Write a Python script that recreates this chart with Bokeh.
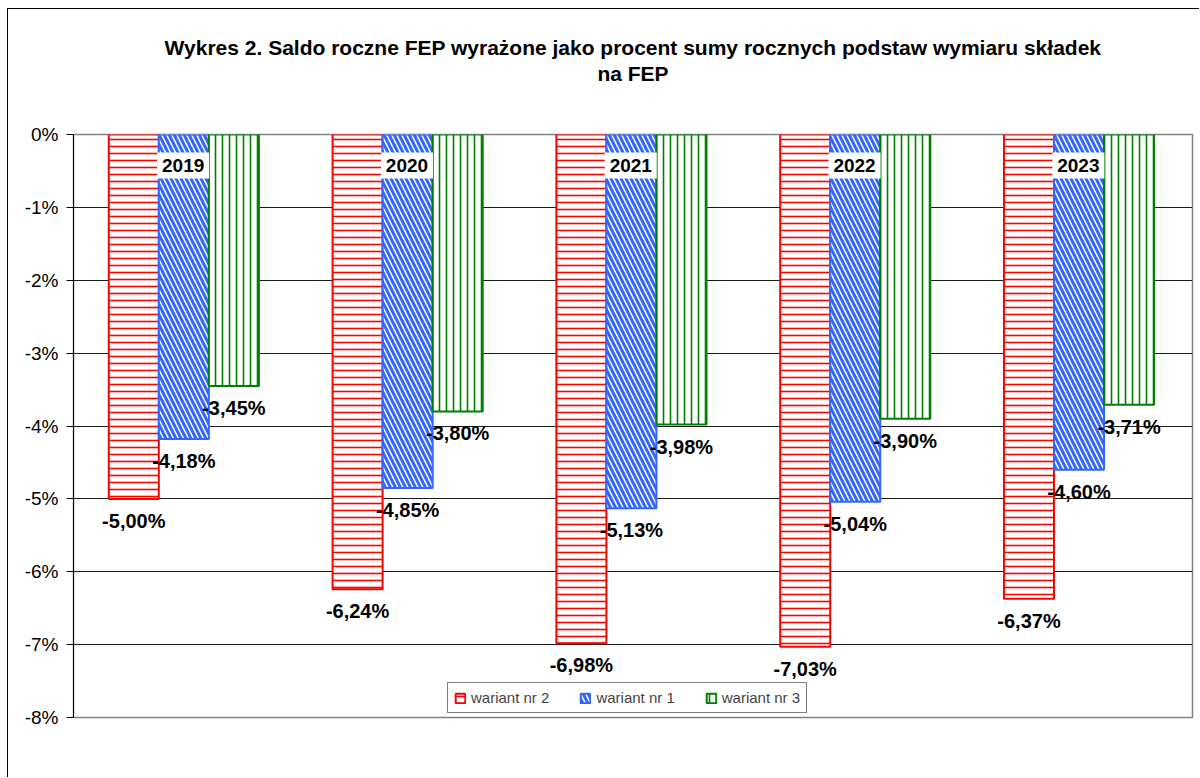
from bokeh.plotting import figure
from bokeh.models import (ColumnDataSource, FactorRange, Range1d, FixedTicker,
                          PrintfTickFormatter, LabelSet, Legend, LegendItem, Title)
from bokeh.transform import dodge
from bokeh.core.properties import value
from bokeh.embed import file_html
from bokeh.resources import INLINE

# ---------------- data ----------------
years = ["2019", "2020", "2021", "2022", "2023"]
wariant_nr_2 = [-5.00, -6.24, -6.98, -7.03, -6.37]
wariant_nr_1 = [-4.18, -4.85, -5.13, -5.04, -4.60]
wariant_nr_3 = [-3.45, -3.80, -3.98, -3.90, -3.71]
series_names = ["wariant nr 2", "wariant nr 1", "wariant nr 3"]
y_ticks = [0, -1, -2, -3, -4, -5, -6, -7, -8]
title_lines = ["Wykres 2. Saldo roczne FEP wyrażone jako procent sumy rocznych podstaw wymiaru składek",
               "na FEP"]

FONT = "Liberation Sans"


def fmt(v):
    return ("%.2f%%" % v).replace(".", ",")


W, H = 1192, 769
TOP, BOTTOM = 125, 61
p = figure(x_range=FactorRange(*years, range_padding=0), y_range=Range1d(-8, 0),
           width=W, height=H, output_backend="svg", toolbar_location=None,
           x_axis_location=None, title=None,
           min_border_left=65, min_border_right=8, min_border_top=TOP, min_border_bottom=BOTTOM)
p.margin = (8, 0, 0, 7)
p.styles = {"border-left": "1px solid black", "border-top": "1px solid black"}

# titles: the first one added sits closest to the plot area
p.add_layout(Title(text=title_lines[1], align="center", text_font=FONT, text_font_size="21px",
                   text_font_style="bold", text_color="black", standoff=0,
                   padding=dict(left=0, right=0, top=0, bottom=50)), "above")
p.add_layout(Title(text=title_lines[0], align="center", text_font=FONT, text_font_size="21px",
                   text_font_style="bold", text_color="black", standoff=2), "above")

p.outline_line_color = "#808080"
p.outline_line_width = 1.5
p.xgrid.grid_line_color = None
p.ygrid.grid_line_color = "#1a1a1a"
p.ygrid.grid_line_width = 1
p.ygrid.ticker = FixedTicker(ticks=y_ticks)

ax = p.yaxis[0]
ax.ticker = FixedTicker(ticks=y_ticks)
ax.formatter = PrintfTickFormatter(format="%d%%")
ax.major_tick_out = 7
ax.major_tick_in = 0
ax.minor_tick_out = 0
ax.minor_tick_in = 0
ax.axis_line_color = "black"
ax.major_tick_line_color = "black"
ax.major_label_text_font = FONT
ax.major_label_text_font_size = "19px"
ax.major_label_text_color = "black"
ax.major_label_standoff = 8

bw = 0.2236
offsets = [-0.2306, -0.007, 0.2166]
colors = ["#FF0000", "#3366FF", "#008000"]
hatches = ["-", "\\", "|"]
scales = [7, 10, 7]
weights = [1.6, 3, 1.6]
series = [wariant_nr_2, wariant_nr_1, wariant_nr_3]

items = []
for name, vals, off, col, hp, hs, hw in zip(series_names, series, offsets, colors, hatches, scales, weights):
    src = ColumnDataSource(dict(year=years, val=vals, txt=[fmt(v) for v in vals]))
    r = p.vbar(x=dodge("year", off, range=p.x_range), top="val", bottom=0, width=bw, source=src,
               fill_color="white", line_color=col, line_width=2,
               hatch_pattern=hp, hatch_color=col, hatch_scale=hs, hatch_weight=hw)
    items.append(LegendItem(label=name, renderers=[r]))
    ls = LabelSet(x=dodge("year", off, range=p.x_range), y="val", text="txt", source=src,
                  text_align="center", text_baseline="top", y_offset=-11,
                  text_font=value(FONT), text_font_size=value("20px"), text_font_style="bold",
                  text_color="black")
    p.add_layout(ls)

# category labels in white boxes just below the zero line
frame_h = H - TOP - BOTTOM
px_per_unit = frame_h / 8.0
label_drop = 31  # px below zero line
ysrc = ColumnDataSource(dict(year=years, y=[-label_drop / px_per_unit] * len(years), txt=years))
p.rect(x=dodge("year", -0.01, range=p.x_range), y="y", width=52, height=26,
       width_units="screen", height_units="screen", source=ysrc,
       fill_color="white", line_color=None)
p.add_layout(LabelSet(x=dodge("year", -0.01, range=p.x_range), y="y", text="txt", source=ysrc,
                      text_align="center", text_baseline="middle",
                      text_font=value(FONT), text_font_size=value("19px"), text_font_style="bold",
                      text_color="black"))

legend = Legend(items=items, orientation="horizontal", location=(374, 4),
                padding=6, spacing=30, label_standoff=5, glyph_width=12, glyph_height=12,
                label_height=15, label_text_font=FONT, label_text_font_size="15px",
                border_line_color="black", border_line_width=1, background_fill_color="white",
                margin=0)
p.add_layout(legend)

open("out.html", "w").write(file_html(p, INLINE))
